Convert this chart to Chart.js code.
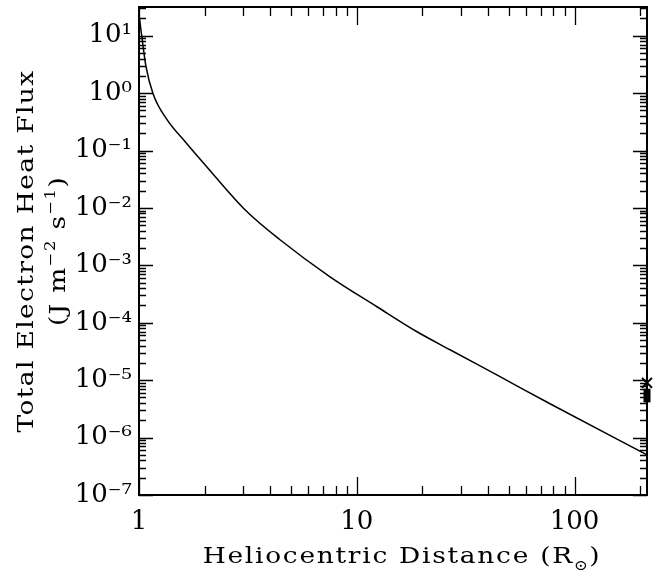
<!DOCTYPE html>
<html>
<head>
<meta charset="utf-8">
<script src="https://cdn.jsdelivr.net/npm/chart.js@4.4.1/dist/chart.umd.min.js"></script>
<style>
  html, body { margin: 0; padding: 0; background: #fff; }
  #wrap { width: 653px; height: 574px; }
</style>
</head>
<body>
<div id="wrap"><canvas id="chart" width="653" height="574"></canvas></div>
<script>
// Model curve: heliocentric distance (solar radii) vs total electron heat flux (J m^-2 s^-1)
const distance = [1.0, 1.029, 1.077, 1.16, 1.345, 1.644, 2.009, 3.066, 4.441, 7.534, 12.38, 18.9, 26.79, 45.46, 77.1, 215];
const heatFlux = [23, 10, 2.88, 0.976, 0.344, 0.137, 0.0566, 0.00931, 0.00279, 6.32e-4, 1.9e-4, 6.97e-5, 3.39e-5, 1.15e-5, 3.88e-6, 5.0e-7];

// Observed values at 1 AU
const obsDistance = [215];
const obsCross = [9.0e-6];
const obsRange = [4.1e-6, 7.1e-6];

// Axes
const xRange = [1, 215];
const yRange = [1e-7, 31.6];
const xTicks = [1, 10, 100];
const yTicks = [1e-7, 1e-6, 1e-5, 1e-4, 1e-3, 1e-2, 1e-1, 1e0, 1e1];

const FONT = "'DejaVu Serif', 'Liberation Serif', serif";
const SUP = { '-': '\u207B', '0': '\u2070', '1': '\u00B9', '2': '\u00B2', '3': '\u00B3',
  '4': '\u2074', '5': '\u2075', '6': '\u2076', '7': '\u2077', '8': '\u2078', '9': '\u2079' };

function powLabel(v) {
  const e = Math.round(Math.log10(v));
  return '10' + String(e).split('').map(c => SUP[c]).join('');
}

// writes a line of text with super/subscript parts, centred on the origin
// (glyphs stretched a little to look like the wide plotting font)
function drawRich(ctx, parts, size, spacing, stretch) {
  ctx.save();
  ctx.scale(stretch, 1);
  ctx.letterSpacing = spacing + 'px';
  let total = 0;
  parts.forEach(p => {
    ctx.font = `${p.sup || p.sub ? size * 0.62 : size}px ${FONT}`;
    total += ctx.measureText(p.t).width;
  });
  let pos = -total / 2;
  parts.forEach(p => {
    ctx.font = `${p.sup || p.sub ? size * 0.62 : size}px ${FONT}`;
    const dy = p.sup ? -size * 0.42 : (p.sub ? size * 0.3 : 0);
    ctx.fillText(p.t, pos, dy);
    pos += ctx.measureText(p.t).width;
  });
  ctx.letterSpacing = '0px';
  ctx.restore();
}

// inside tick marks on all four sides, the frame and the axis titles
const frameTicks = {
  id: 'frameTicks',
  afterDraw(chart) {
    const { ctx, chartArea: a, scales: { x, y } } = chart;
    ctx.save();
    ctx.strokeStyle = '#000';
    ctx.lineWidth = 1.3;
    ctx.beginPath();
    for (let d = 1; d <= 100; d *= 10) {
      for (let m = 1; m <= 9; m++) {
        const v = d * m;
        if (v < xRange[0] || v > xRange[1]) continue;
        const px = Math.round(x.getPixelForValue(v)) + 0.5;
        const len = m === 1 ? 18 : 9;
        ctx.moveTo(px, a.bottom); ctx.lineTo(px, a.bottom - len);
        ctx.moveTo(px, a.top); ctx.lineTo(px, a.top + len);
      }
    }
    for (let e = -7; e <= 1; e++) {
      for (let m = 1; m <= 9; m++) {
        const v = m * Math.pow(10, e);
        if (v < yRange[0] || v > yRange[1]) continue;
        const py = Math.round(y.getPixelForValue(v)) + 0.5;
        const len = m === 1 ? 14 : 7;
        ctx.moveTo(a.left, py); ctx.lineTo(a.left + len, py);
        ctx.moveTo(a.right, py); ctx.lineTo(a.right - len, py);
      }
    }
    ctx.stroke();
    ctx.lineWidth = 2;
    ctx.strokeRect(a.left, a.top, a.right - a.left, a.bottom - a.top);

    ctx.fillStyle = '#000';
    ctx.textBaseline = 'alphabetic';
    ctx.save();
    ctx.translate(402, 563);
    drawRich(ctx, [{ t: 'Heliocentric Distance (R' }, { t: '\u2299', sub: true }, { t: ')' }], 23, 1.5, 1.15);
    ctx.restore();

    ctx.save();
    ctx.translate(33, 251);
    ctx.rotate(-Math.PI / 2);
    drawRich(ctx, [{ t: 'Total Electron Heat Flux' }], 23, 1.2, 1.15);
    ctx.restore();

    ctx.save();
    ctx.translate(65, 251);
    ctx.rotate(-Math.PI / 2);
    drawRich(ctx, [{ t: '(J m' }, { t: '\u22122', sup: true }, { t: ' s' }, { t: '\u22121', sup: true }, { t: ')' }], 23, 1.2, 1.15);
    ctx.restore();
    ctx.restore();
  }
};

new Chart(document.getElementById('chart'), {
  type: 'line',
  data: {
    datasets: [
      {
        data: distance.map((r, i) => ({ x: r, y: heatFlux[i] })),
        borderColor: '#000',
        borderWidth: 1.5,
        pointRadius: 0,
        cubicInterpolationMode: 'monotone',
      },
      {
        data: obsRange.map(v => ({ x: obsDistance[0], y: v })),
        borderColor: '#000',
        borderWidth: 7,
        borderCapStyle: 'butt',
        pointRadius: 0,
        clip: false,
      },
      {
        data: obsCross.map((v, i) => ({ x: obsDistance[i], y: v })),
        showLine: false,
        pointStyle: 'crossRot',
        pointRadius: 7,
        pointBorderWidth: 2,
        pointBorderColor: '#000',
        clip: false,
      },
    ],
  },
  options: {
    responsive: false,
    animation: false,
    layout: { autoPadding: false, padding: { left: 0, right: 6, top: 7, bottom: 0 } },
    plugins: { legend: { display: false }, tooltip: { enabled: false } },
    scales: {
      x: {
        type: 'logarithmic',
        min: xRange[0],
        max: xRange[1],
        afterBuildTicks: s => { s.ticks = xTicks.map(v => ({ value: v })); },
        afterFit: s => { s.height = 79; s.paddingLeft = 0; s.paddingRight = 0; },
        grid: { display: false, drawTicks: false },
        border: { display: false },
        ticks: {
          color: '#000',
          padding: 12,
          maxRotation: 0,
          font: { family: FONT, size: 26 },
          callback: v => String(v),
        },
      },
      y: {
        type: 'logarithmic',
        min: yRange[0],
        max: yRange[1],
        afterBuildTicks: s => { s.ticks = yTicks.map(v => ({ value: v })); },
        afterFit: s => { s.width = 139; s.paddingTop = 0; s.paddingBottom = 0; },
        grid: { display: false, drawTicks: false },
        border: { display: false },
        ticks: {
          color: '#000',
          padding: 7,
          font: { family: FONT, size: 26 },
          callback: v => powLabel(v),
        },
      },
    },
  },
  plugins: [frameTicks],
});
</script>
</body>
</html>
